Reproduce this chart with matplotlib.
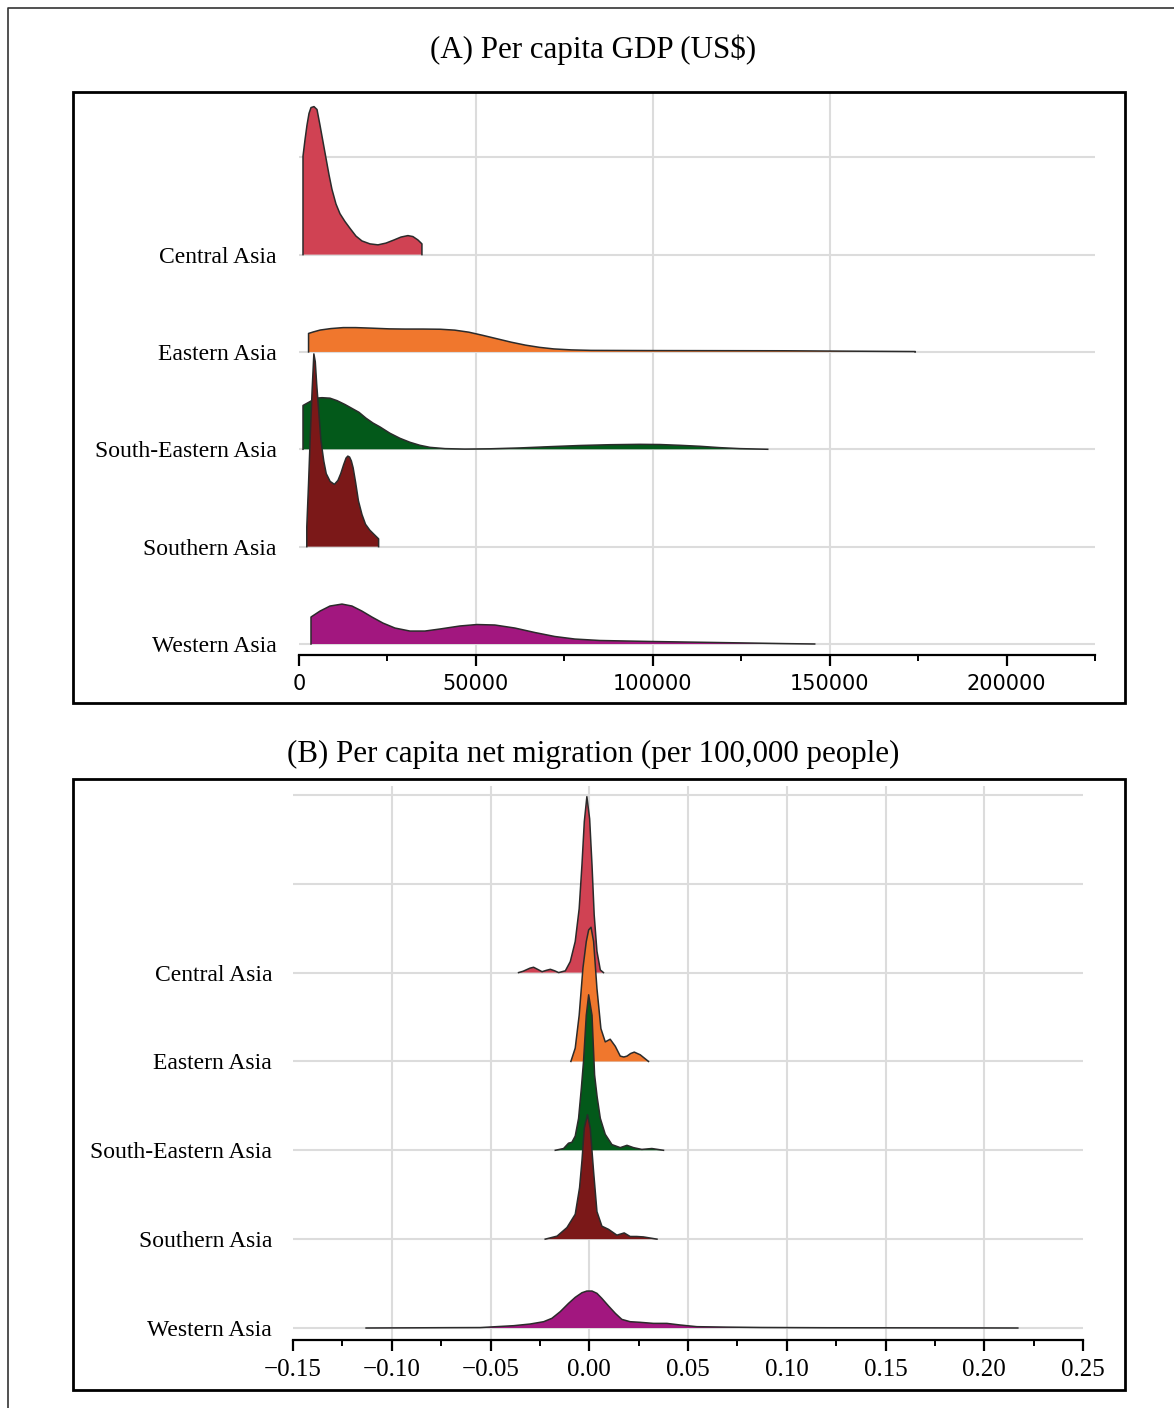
import numpy as np
import matplotlib
matplotlib.use('Agg')
import matplotlib.pyplot as plt
from matplotlib.patches import Rectangle
from matplotlib.lines import Line2D

plt.rcParams['font.family'] = ['Liberation Serif', 'DejaVu Serif']

# %% data (x value, ridge height in row units)
regions = ['Central Asia', 'Eastern Asia', 'South-Eastern Asia', 'Southern Asia', 'Western Asia']
colours = ['#d04253', '#f0772d', '#03591a', '#7b1818', '#a2177f']

# (A) per capita GDP
gdp_central_x = [1130, 1700, 2260, 2830, 3390, 4240, 5090, 5930, 6780, 7630, 8480, 9320, 10450,
                 11580, 12990, 14410, 16100, 17800, 20060, 22320, 24580, 26840, 28820, 30790,
                 32200, 33620, 34750]
gdp_central_h = [1.01, 1.18, 1.33, 1.45, 1.51, 1.52, 1.49, 1.33, 1.16, 0.99, 0.82, 0.67, 0.52,
                 0.42, 0.34, 0.27, 0.19, 0.14, 0.11, 0.10, 0.118, 0.15, 0.18, 0.195,
                 0.185, 0.15, 0.11]
gdp_eastern_x = [2700, 4000, 6000, 9000, 12500, 16000, 20000, 25500, 30000, 35000, 40000, 44000,
                 48000, 52000, 56000, 60000, 64000, 68000, 72000, 77000, 82600, 100000, 120000,
                 137300, 155000, 174200]
gdp_eastern_h = [0.19, 0.205, 0.225, 0.24, 0.25, 0.25, 0.245, 0.237, 0.235, 0.235, 0.233, 0.224,
                 0.203, 0.17, 0.135, 0.10, 0.07, 0.047, 0.031, 0.021, 0.016, 0.014, 0.013,
                 0.012, 0.008, 0.004]
gdp_seast_x = [1130, 3110, 4800, 6500, 8760, 10740, 13000, 14970, 16950, 18930, 20900, 22880,
               25700, 28530, 31360, 34180, 37000, 41250, 46900, 53960, 62430, 70900, 79380,
               87860, 96330, 101980, 107630, 113280, 118930, 124580, 132490]
gdp_seast_h = [0.45, 0.49, 0.525, 0.53, 0.525, 0.50, 0.46, 0.42, 0.38, 0.32, 0.27, 0.23,
               0.165, 0.113, 0.072, 0.041, 0.02, 0.007, 0.002, 0.005, 0.014, 0.027, 0.039,
               0.047, 0.051, 0.049, 0.041, 0.031, 0.017, 0.007, 0.0]
gdp_south_x = [2200, 2700, 3200, 3700, 4200, 4600, 5000, 5600, 6200, 7000, 7700, 8800, 10000,
               11000, 11800, 12600, 13300, 13800, 14300, 14800, 15300, 16000, 16800, 17800,
               18800, 20000, 21100, 22500]
gdp_south_h = [0.2, 0.65, 1.15, 1.60, 1.98, 1.90, 1.67, 1.38, 1.09, 0.88, 0.75, 0.67, 0.64,
               0.68, 0.75, 0.84, 0.91, 0.93, 0.92, 0.88, 0.81, 0.66, 0.47, 0.33, 0.23, 0.17,
               0.13, 0.08]
gdp_west_x = [3390, 5930, 8760, 12150, 14970, 17800, 20620, 23730, 27120, 31360, 35600, 39830,
              45480, 50290, 55370, 61020, 66670, 72320, 77970, 85030, 99160, 113280, 127410,
              137300, 145770]
gdp_west_h = [0.277, 0.338, 0.39, 0.41, 0.39, 0.338, 0.277, 0.215, 0.164, 0.133, 0.133, 0.154,
              0.185, 0.20, 0.195, 0.164, 0.118, 0.077, 0.051, 0.036, 0.026, 0.018, 0.01,
              0.004, 0.0]

# (B) per capita net migration
mig_central_x = [-0.0358, -0.0335, -0.0300, -0.0282, -0.0260, -0.0239, -0.0218, -0.0197,
                 -0.0175, -0.0155, -0.0121, -0.0096, -0.0071, -0.0051, -0.0037, -0.0025,
                 -0.0012, 0.0002, 0.0014, 0.0025, 0.0039, 0.0056, 0.0072]
mig_central_h = [0.0, 0.015, 0.05, 0.06, 0.035, 0.01, 0.025, 0.037, 0.02, 0.0, 0.02, 0.124,
                 0.35, 0.72, 1.21, 1.70, 1.98, 1.73, 1.21, 0.65, 0.24, 0.03, 0.0]
mig_eastern_x = [-0.0093, -0.0071, -0.0051, -0.0032, -0.0015, -0.0003, 0.0009, 0.0022, 0.0039,
                 0.0059, 0.0081, 0.0106, 0.0132, 0.0157, 0.0175, 0.0191, 0.0210, 0.0228, 0.0258,
                 0.030]
mig_eastern_h = [0.0, 0.15, 0.52, 1.05, 1.35, 1.48, 1.51, 1.35, 0.82, 0.37, 0.22, 0.25, 0.17,
                 0.06, 0.05, 0.06, 0.09, 0.105, 0.075, 0.0]
mig_seast_x = [-0.0172, -0.013, -0.0105, -0.0088, -0.0071, -0.0054, -0.004, -0.0029, -0.0015,
               -0.0003, 0.0014, 0.0027, 0.0040, 0.0056, 0.0081, 0.0115, 0.0157, 0.0191, 0.0224,
               0.0266, 0.0317, 0.0376]
mig_seast_h = [0.0, 0.02, 0.08, 0.09, 0.16, 0.36, 0.70, 1.00, 1.52, 1.75, 1.52, 0.85, 0.60,
               0.36, 0.18, 0.064, 0.03, 0.056, 0.03, 0.01, 0.02, 0.0]
mig_south_x = [-0.0223, -0.0163, -0.0113, -0.0071, -0.0049, -0.0037, -0.0025, -0.0009, 0.0005,
               0.0022, 0.0039, 0.0064, 0.0098, 0.014, 0.0177, 0.0207, 0.0240, 0.0275, 0.0343]
mig_south_h = [0.0, 0.034, 0.13, 0.28, 0.58, 0.88, 1.25, 1.40, 1.25, 0.76, 0.31, 0.146, 0.11,
               0.045, 0.07, 0.03, 0.03, 0.025, 0.0]
mig_west_x = [-0.113, -0.09, -0.07, -0.0552, -0.0383, -0.0299, -0.0231, -0.0189, -0.0147,
              -0.0105, -0.0071, -0.0037, -0.0012, 0.0014, 0.0039, 0.0064, 0.0098, 0.0132,
              0.0165, 0.0207, 0.0258, 0.0325, 0.0393, 0.046, 0.0545, 0.070, 0.087, 0.12, 0.16,
              0.217]
mig_west_h = [0.0, 0.002, 0.004, 0.005, 0.026, 0.045, 0.071, 0.109, 0.184, 0.277, 0.345, 0.397,
              0.416, 0.416, 0.39, 0.333, 0.247, 0.165, 0.097, 0.071, 0.064, 0.052, 0.052,
              0.034, 0.015, 0.01, 0.006, 0.003, 0.002, 0.0]

gdp_ticks = [0, 50000, 100000, 150000, 200000]
gdp_tick_labels = ['0', '50000', '100000', '150000', '200000']
gdp_minor = [25000, 75000, 125000, 175000, 225000]
mig_ticks = [-0.15, -0.10, -0.05, 0.00, 0.05, 0.10, 0.15, 0.20, 0.25]
mig_tick_labels = ['\u22120.15', '\u22120.10', '\u22120.05', '0.00', '0.05', '0.10', '0.15', '0.20', '0.25']
mig_minor = [-0.125, -0.075, -0.025, 0.025, 0.075, 0.125, 0.175, 0.225]

gdp_curves = [(gdp_central_x, gdp_central_h), (gdp_eastern_x, gdp_eastern_h),
              (gdp_seast_x, gdp_seast_h), (gdp_south_x, gdp_south_h), (gdp_west_x, gdp_west_h)]
mig_curves = [(mig_central_x, mig_central_h), (mig_eastern_x, mig_eastern_h),
              (mig_seast_x, mig_seast_h), (mig_south_x, mig_south_h), (mig_west_x, mig_west_h)]

W, H = 1174, 1408
fig = plt.figure(figsize=(W / 100, H / 100), dpi=100)


def px_axes(l, t, r, b):
    return fig.add_axes([l / W, 1 - b / H, (r - l) / W, (b - t) / H])


def ridge_panel(ax, curves, n_grid, xlim, ylim, ticks, labels, minor, tick_font, tick_size, ypad):
    ax.set_xlim(*xlim)
    ax.set_ylim(*ylim)
    for g in range(n_grid + 1):
        ax.axhline(g, color='#dcdcdc', lw=1.5, zorder=0)
    for t in ticks[1:-1]:
        ax.axvline(t, color='#dcdcdc', lw=1.5, zorder=0)
    n = len(curves)
    for i, (x, h) in enumerate(curves):
        base = n - 1 - i
        xs = [x[0]] + list(x) + [x[-1]]
        ys = [base] + [base + v for v in h] + [base]
        ax.fill(xs, ys, color=colours[i], zorder=2 + i, lw=0)
        ax.plot(xs, ys, color='#2b2b2b', lw=1.1, zorder=2 + i, solid_joinstyle='round')
    for s in ['left', 'right', 'top']:
        ax.spines[s].set_visible(False)
    ax.spines['bottom'].set_linewidth(1.6)
    ax.set_xticks(ticks)
    ax.set_xticklabels(labels, family=tick_font, fontsize=tick_size)
    ax.set_xticks(minor, minor=True)
    ax.tick_params(axis='x', which='major', length=8, width=1.6, pad=6)
    ax.tick_params(axis='x', which='minor', length=4, width=1.4)
    ax.set_yticks(list(range(n)))
    ax.set_yticklabels(regions[::-1], fontsize=17)
    ax.tick_params(axis='y', length=0, pad=ypad)
    ax.patch.set_alpha(0)


# %% panel A
axA = px_axes(299, 92, 1095, 655)
ridge_panel(axA, gdp_curves, 5, (0, 225000), (-0.113, 5.67), gdp_ticks, gdp_tick_labels,
            gdp_minor, 'DejaVu Sans', 15, 16)

# %% panel B
axB = px_axes(293, 786, 1083, 1340)
ridge_panel(axB, mig_curves, 6, (-0.15, 0.25), (-0.135, 6.1), mig_ticks, mig_tick_labels,
            mig_minor, 'Liberation Serif', 18, 15)

# titles and frames
fig.text(593 / W, 1 - 50 / H, '(A) Per capita GDP (US$)', ha='center', va='center', fontsize=22.3)
fig.text(593 / W, 1 - 754 / H, '(B) Per capita net migration (per 100,000 people)',
         ha='center', va='center', fontsize=22.3)

for top, bot in [(92, 703), (779, 1390)]:
    fig.add_artist(Rectangle((73 / W, 1 - bot / H), (1125 - 73) / W, (bot - top) / H,
                             transform=fig.transFigure, fill=False, ec='black', lw=2.0))
fig.add_artist(Line2D([8 / W, 8 / W, 1.0], [0.0, 1 - 8 / H, 1 - 8 / H],
                      transform=fig.transFigure, color='#333333', lw=1.2))

fig.savefig('out.png', dpi=100)
